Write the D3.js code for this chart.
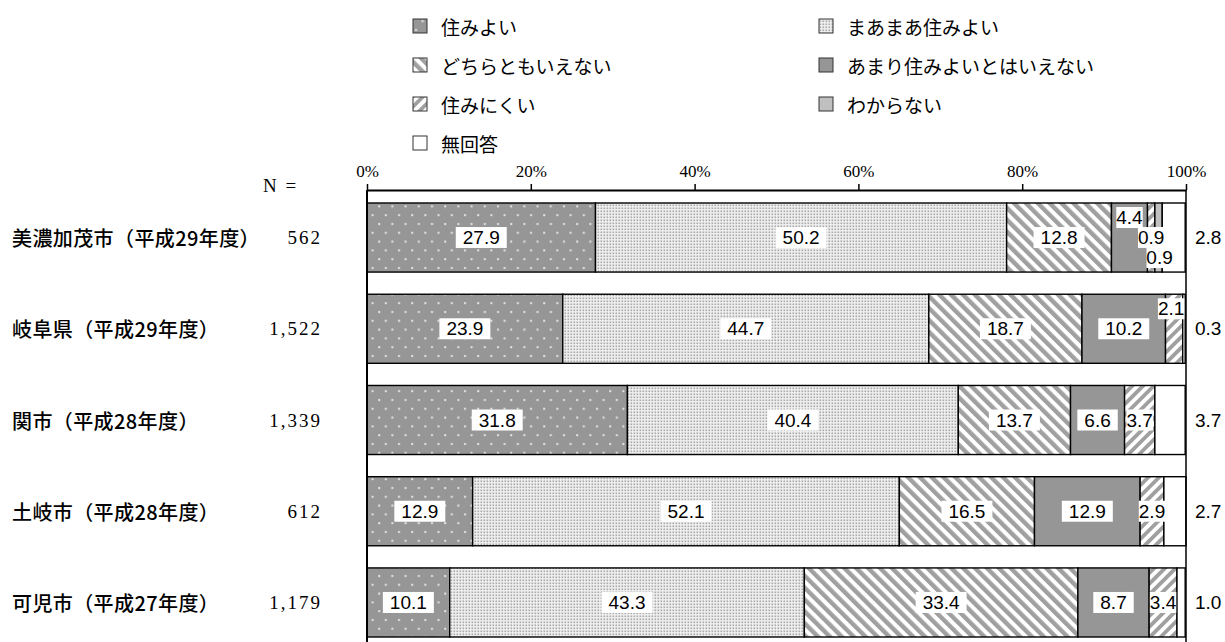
<!DOCTYPE html>
<html>
<head>
<meta charset="utf-8">
<script src="https://cdn.jsdelivr.net/npm/d3@7"></script>
<style>
  body { margin: 0; background: #fff; }
  svg { display: block; }
</style>
</head>
<body>
<svg id="chart" width="1225" height="642"></svg>
<script>
// ---- data ----
const categories = ["美濃加茂市（平成29年度）", "岐阜県（平成29年度）", "関市（平成28年度）", "土岐市（平成28年度）", "可児市（平成27年度）"];
const sampleSizes = ["562", "1,522", "1,339", "612", "1,179"];
const seriesNames = ["住みよい", "まあまあ住みよい", "どちらともいえない", "あまり住みよいとはいえない", "住みにくい", "わからない", "無回答"];
const sumiyoi   = [27.9, 23.9, 31.8, 12.9, 10.1];
const maamaa    = [50.2, 44.7, 40.4, 52.1, 43.3];
const dochira   = [12.8, 18.7, 13.7, 16.5, 33.4];
const amari     = [4.4, 10.2, 6.6, 12.9, 8.7];
const sumiNikui = [0.9, 2.1, 3.7, 2.9, 3.4];
const wakaranai = [0.9, 0, 0, 0, 0];
const mukaitou  = [2.8, 0.3, 3.7, 2.7, 1.0];
const tickValues = [0, 20, 40, 60, 80, 100];
const tickLabels = ["0%", "20%", "40%", "60%", "80%", "100%"];

const seriesValues = [sumiyoi, maamaa, dochira, amari, sumiNikui, wakaranai, mukaitou];
const rows = categories.map((c, i) => {
  const r = { category: c };
  seriesNames.forEach((s, k) => { r[s] = seriesValues[k][i]; });
  return r;
});

// ---- layout ----
const svg = d3.select("#chart");
const x = d3.scaleLinear().domain([0, 100]).range([367, 1186]);
const y = d3.scaleBand().domain(categories).range([190, 650])
  .paddingInner(0.243).paddingOuter(0.1425);

const sans = "'Liberation Sans', Arial, sans-serif";
const serif = "'Liberation Serif', 'DejaVu Serif', serif";
const jp = "'Noto Sans CJK JP', 'Noto Sans', sans-serif";

// ---- fill patterns ----
const defs = svg.append("defs");

// gray with sparse white dots
const pDots = defs.append("pattern").attr("id", "p-dots")
  .attr("patternUnits", "userSpaceOnUse").attr("width", 13.2).attr("height", 17.6);
pDots.append("rect").attr("width", 13.2).attr("height", 17.6).attr("fill", "#969696");
pDots.append("rect").attr("x", 2).attr("y", 3).attr("width", 2).attr("height", 2).attr("fill", "#e4e4e4");
pDots.append("rect").attr("x", 8.6).attr("y", 11.8).attr("width", 2).attr("height", 2).attr("fill", "#e4e4e4");

// fine gray dots on white
const pFine = defs.append("pattern").attr("id", "p-fine")
  .attr("patternUnits", "userSpaceOnUse").attr("width", 3).attr("height", 3);
pFine.append("rect").attr("width", 3).attr("height", 3).attr("fill", "#f0f0f0");
pFine.append("rect").attr("x", 0.5).attr("y", 0.5).attr("width", 1.6).attr("height", 1.6).attr("fill", "#a8a8a8");

// diagonal hatch, descending "\"
const pBack = defs.append("pattern").attr("id", "p-back")
  .attr("patternUnits", "userSpaceOnUse").attr("width", 8.4).attr("height", 8.4)
  .attr("patternTransform", "rotate(-45)");
pBack.append("rect").attr("width", 8.4).attr("height", 8.4).attr("fill", "#ffffff");
pBack.append("rect").attr("width", 4.4).attr("height", 8.4).attr("fill", "#a0a0a0");

// diagonal hatch, ascending "/"
const pFwd = defs.append("pattern").attr("id", "p-fwd")
  .attr("patternUnits", "userSpaceOnUse").attr("width", 7.6).attr("height", 7.6)
  .attr("patternTransform", "rotate(45)");
pFwd.append("rect").attr("width", 7.6).attr("height", 7.6).attr("fill", "#ffffff");
pFwd.append("rect").attr("width", 3.8).attr("height", 7.6).attr("fill", "#a0a0a0");

const fills = ["url(#p-dots)", "url(#p-fine)", "url(#p-back)", "#969696", "url(#p-fwd)", "#c0c0c0", "#ffffff"];

// ---- stacked bars ----
const stack = d3.stack().keys(seriesNames)(rows);

const layers = svg.append("g").selectAll("g").data(stack).join("g")
  .attr("fill", (d, k) => fills[k]);

layers.selectAll("rect").data(d => d.filter(p => p[1] - p[0] > 0)).join("rect")
  .attr("x", p => x(p[0]))
  .attr("y", p => y(p.data.category))
  .attr("width", p => x(p[1]) - x(p[0]))
  .attr("height", y.bandwidth())
  .attr("stroke", "#000")
  .attr("stroke-width", 1.4);

// ---- axes and frame ----
const axisY = 190;
svg.append("line").attr("x1", x(0)).attr("x2", x(0)).attr("y1", axisY).attr("y2", 642)
  .attr("stroke", "#000").attr("stroke-width", 2);
svg.append("line").attr("x1", x(100)).attr("x2", x(100)).attr("y1", axisY).attr("y2", 642)
  .attr("stroke", "#000").attr("stroke-width", 1.5);

const axis = svg.append("g").attr("transform", `translate(0,${axisY})`)
  .call(d3.axisTop(x).tickValues(tickValues)
    .tickFormat((d, i) => tickLabels[i]).tickSize(6).tickSizeOuter(0).tickPadding(7));
axis.select(".domain").attr("stroke", "#000").attr("stroke-width", 2);
axis.selectAll(".tick line").attr("stroke", "#000").attr("stroke-width", 1.5);
axis.selectAll(".tick text").attr("font-family", serif).attr("font-size", 17).attr("fill", "#000");

// ---- value labels ----
// nudges (x in px, y in label heights) for narrow segments whose labels would collide
const labelNudge = { "0:3": [0, -1], "0:5": [1, 1], "1:4": [-3, -1] };

const labelG = svg.append("g");
stack.forEach((layer, k) => {
  layer.forEach((p, i) => {
    const v = seriesValues[k][i];
    if (!(v > 0)) return;
    const cy = y(p.data.category) + y.bandwidth() / 2;
    const txt = v.toFixed(1);
    if (k === seriesNames.length - 1) {
      labelG.append("text").attr("x", x(100) + 9).attr("y", cy)
        .attr("dominant-baseline", "central")
        .attr("font-family", sans).attr("font-size", 19).attr("fill", "#000")
        .text(txt);
      return;
    }
    const n = labelNudge[`${i}:${k}`] || [0, 0];
    const cx = (x(p[0]) + x(p[1])) / 2 + n[0];
    const ly = cy + n[1] * 20;
    const g = labelG.append("g");
    const t = g.append("text").attr("x", cx).attr("y", ly)
      .attr("text-anchor", "middle").attr("dominant-baseline", "central")
      .attr("font-family", sans).attr("font-size", 19).attr("fill", "#000")
      .text(txt);
    const w = t.node().getComputedTextLength();
    const segW = x(p[1]) - x(p[0]);
    const pad = segW > w + 14 ? 7 : 0;
    g.insert("rect", "text")
      .attr("x", cx - w / 2 - pad).attr("y", ly - 10.5)
      .attr("width", w + pad * 2).attr("height", 21)
      .attr("fill", "#fff");
  });
});

// ---- category and N labels ----
svg.append("text").attr("x", 263).attr("y", 185)
  .attr("dominant-baseline", "central")
  .attr("font-family", serif).attr("font-size", 19).attr("letter-spacing", 2)
  .text("N =");

svg.append("g").selectAll("text").data(categories).join("text")
  .attr("x", 12).attr("y", c => y(c) + y.bandwidth() / 2)
  .attr("dominant-baseline", "central")
  .attr("font-family", jp).attr("font-size", 20).attr("font-weight", 500)
  .attr("letter-spacing", 0.4)
  .text(c => c);

svg.append("g").selectAll("text").data(categories).join("text")
  .attr("x", 322).attr("y", c => y(c) + y.bandwidth() / 2)
  .attr("text-anchor", "end").attr("dominant-baseline", "central")
  .attr("font-family", serif).attr("font-size", 19).attr("letter-spacing", 2)
  .text((c, i) => sampleSizes[i]);

// ---- legend ----
const legendX = [413, 819];
const legendY = [26, 65, 104, 143];
const legend = svg.append("g").selectAll("g").data(seriesNames).join("g")
  .attr("transform", (d, k) => `translate(${legendX[k % 2]},${legendY[Math.floor(k / 2)]})`);
legend.append("rect")
  .attr("x", 0).attr("y", -7).attr("width", 14).attr("height", 14)
  .attr("fill", (d, k) => fills[k]).attr("stroke", "#333").attr("stroke-width", 1);
legend.append("text")
  .attr("x", 28).attr("y", 0).attr("dominant-baseline", "central")
  .attr("font-family", jp).attr("font-size", 19).attr("fill", "#000")
  .text(d => d);
</script>
</body>
</html>
